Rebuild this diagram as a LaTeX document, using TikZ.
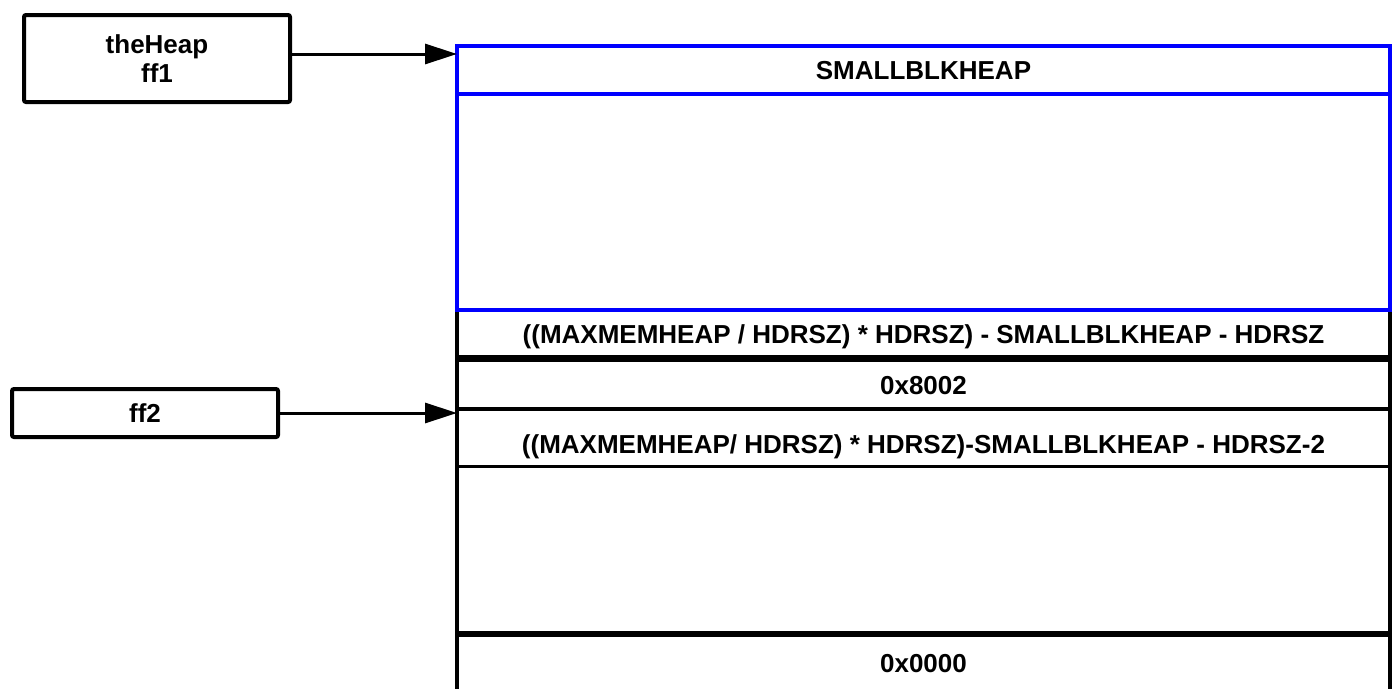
\documentclass[tikz,border=0pt]{standalone}
\usepackage{fontspec}
\setmainfont{Liberation Sans}
\usetikzlibrary{arrows.meta}
\begin{document}
\begin{tikzpicture}[x=1pt,y=-1pt,
  lbl/.style={font=\fontsize{26}{29}\selectfont\bfseries, inner sep=0pt, align=center},
  ptr/.style={draw, line width=4pt, rounded corners=2pt, inner sep=0pt, outer sep=0pt, anchor=north west,
              font=\fontsize{26}{29}\selectfont\bfseries, align=center},
  conn/.style={line width=3pt, -{Triangle[length=32pt,width=20pt]}},
  blueline/.style={draw={rgb,255:red,0;green,0;blue,255}, line width=4pt},
  memline/.style={line width=4pt},
  thickline/.style={line width=6.5pt}]
\useasboundingbox (0,0) rectangle (1392,688);

% pointer boxes
\node[ptr, minimum width=266pt, minimum height=87pt] (heap) at (24,15) {theHeap\\ff1};
\node[ptr, minimum width=266pt, minimum height=48pt] (ff2) at (12,389) {ff2};

% memory column frame (black part)
\coordinate (colL) at (457,310);
\coordinate (colR) at (1390,310);
\draw[memline] (colL) -- (457,692);
\draw[memline] (colR) -- (1390,692);
\draw[thickline] (457,358.5) -- (1390,358.5);
\draw[memline] (457,408.5) -- (1390,408.5);
\draw[line width=3.5pt] (457,466.5) -- (1390,466.5);
\draw[line width=5.5pt] (457,634) -- (1390,634);

% blue block
\node[blueline, minimum width=933pt, minimum height=264pt, anchor=north west, inner sep=0pt, outer sep=0pt] (blue) at (457,46) {};
\draw[blueline] (457,94) -- (1390,94);

% labels
\node[lbl, anchor=base] (small) at (923.5,79) {SMALLBLKHEAP};
\node[lbl, anchor=base] (r1) at (923.5,343) {((MAXMEMHEAP / HDRSZ) * HDRSZ) - SMALLBLKHEAP - HDRSZ};
\node[lbl, anchor=base] (r2) at (923.5,394) {0x8002};
\node[lbl, anchor=base] (r3) at (923.5,453) {((MAXMEMHEAP/ HDRSZ) * HDRSZ)-SMALLBLKHEAP - HDRSZ-2};
\node[lbl, anchor=base] (r4) at (923.5,672) {0x0000};

% connectors
\coordinate (in1) at (457,54);
\coordinate (in2) at (457,413);
\draw[conn] (heap.east |- in1) -- (in1);
\draw[conn] (ff2.east) -- (ff2.east -| in2);
\end{tikzpicture}
\end{document}
